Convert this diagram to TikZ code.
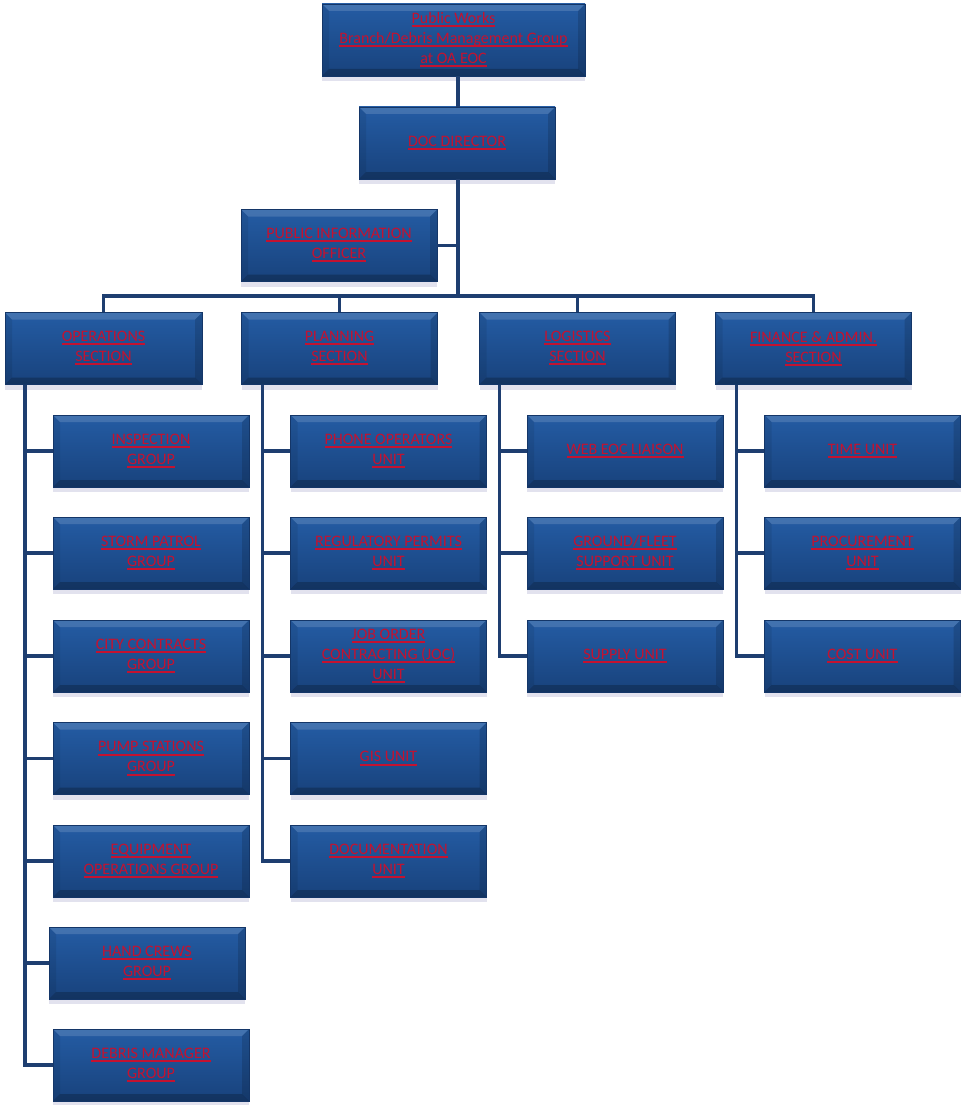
\documentclass[tikz,border=0pt]{standalone}
\usepackage{fontspec}
\setmainfont{Carlito}
\usetikzlibrary{shadows}

\definecolor{boxtop}{RGB}{36,92,164}
\definecolor{boxbot}{RGB}{24,66,124}
\definecolor{boxedge}{RGB}{20,54,104}
\definecolor{linkblue}{RGB}{30,62,112}
\definecolor{textred}{RGB}{196,18,48}

\newsavebox{\linebox}
\newcommand{\redline}[1]{\sbox{\linebox}{#1}\rlap{\rule[-3.6pt]{\wd\linebox}{2pt}}\usebox{\linebox}}

\tikzset{
  box/.style={rectangle, minimum width=196pt, minimum height=72pt, inner sep=2pt,
    align=center, top color=boxtop, bottom color=boxbot, draw=boxedge, line width=0.5pt,
    drop shadow={shadow xshift=0pt, shadow yshift=-5pt, fill=blue!25!gray!40, opacity=0.45},
    text=textred, font=\fontsize{16}{20}\selectfont,
    path picture={
      \fill[white,opacity=.14] (path picture bounding box.north west) -- (path picture bounding box.north east)
        -- ([xshift=-7pt,yshift=-7pt]path picture bounding box.north east) -- ([xshift=7pt,yshift=-7pt]path picture bounding box.north west) -- cycle;
      \fill[black,opacity=.22] (path picture bounding box.south west) -- (path picture bounding box.south east)
        -- ([xshift=-7pt,yshift=7pt]path picture bounding box.south east) -- ([xshift=7pt,yshift=7pt]path picture bounding box.south west) -- cycle;
      \fill[black,opacity=.08] (path picture bounding box.north west) -- ([xshift=7pt,yshift=-7pt]path picture bounding box.north west)
        -- ([xshift=7pt,yshift=7pt]path picture bounding box.south west) -- (path picture bounding box.south west) -- cycle;
      \fill[black,opacity=.14] (path picture bounding box.north east) -- ([xshift=-7pt,yshift=-7pt]path picture bounding box.north east)
        -- ([xshift=-7pt,yshift=7pt]path picture bounding box.south east) -- (path picture bounding box.south east) -- cycle;
    }},
  link/.style={draw=linkblue, line width=3.5pt}
}

\begin{document}
\begin{tikzpicture}[x=1pt, y=-1pt]
	\useasboundingbox (0,0) rectangle (962,1105);
	
	% top of the chart
	\node[box, minimum width=263pt] (works) at (453.5,40) {\redline{Public Works}\\\redline{Branch/Debris Management Group}\\\redline{at OA EOC}};
	\node[box] (doc) at (457,143) {\redline{DOC DIRECTOR}};
	\node[box] (pio) at (339,245.5) {\redline{PUBLIC INFORMATION}\\\redline{OFFICER}};
	
	% sections
	\node[box, minimum width=197pt] (ops) at (103.5,348.5) {\redline{OPERATIONS}\\\redline{SECTION}};
	\node[box] (plan) at (339.5,348.5) {\redline{PLANNING}\\\redline{SECTION}};
	\node[box] (logi) at (577.5,348.5) {\redline{LOGISTICS}\\\redline{SECTION}};
	\node[box] (fin) at (813.5,348.5) {\redline{FINANCE \& ADMIN.}\\\redline{SECTION}};
	
	% operations
	\node[box] (insp) at (151,451) {\redline{INSPECTION}\\\redline{GROUP}};
	\node[box] (storm) at (151,553) {\redline{STORM PATROL}\\\redline{GROUP}};
	\node[box] (city) at (151,656) {\redline{CITY CONTRACTS}\\\redline{GROUP}};
	\node[box] (pump) at (151,758.5) {\redline{PUMP STATIONS}\\\redline{GROUP}};
	\node[box] (equip) at (151,861) {\redline{EQUIPMENT}\\\redline{OPERATIONS GROUP}};
	\node[box] (hand) at (147,963) {\redline{HAND CREWS}\\\redline{GROUP}};
	\node[box] (debris) at (151,1065) {\redline{DEBRIS MANAGER}\\\redline{GROUP}};
	
	% planning
	\node[box] (phone) at (388.5,451) {\redline{PHONE OPERATORS}\\\redline{UNIT}};
	\node[box] (permits) at (388.5,553) {\redline{REGULATORY PERMITS}\\\redline{UNIT}};
	\node[box] (joc) at (388.5,656) {\redline{JOB ORDER}\\\redline{CONTRACTING (JOC)}\\\redline{UNIT}};
	\node[box] (gis) at (388.5,758.5) {\redline{GIS UNIT}};
	\node[box] (docu) at (388.5,861) {\redline{DOCUMENTATION}\\\redline{UNIT}};
	
	% logistics
	\node[box] (web) at (625,451) {\redline{WEB EOC LIAISON}};
	\node[box] (fleet) at (625,553) {\redline{GROUND/FLEET}\\\redline{SUPPORT UNIT}};
	\node[box] (supply) at (625,656) {\redline{SUPPLY UNIT}};
	
	% finance
	\node[box] (time) at (862.5,451) {\redline{TIME UNIT}};
	\node[box] (procure) at (862.5,553) {\redline{PROCUREMENT}\\\redline{UNIT}};
	\node[box] (cost) at (862.5,656) {\redline{COST UNIT}};
	
	% connectors
	\coordinate (hub) at (458,296);
	\coordinate (opsbus) at ([xshift=20pt]ops.south west);
	\coordinate (planbus) at ([xshift=21pt]plan.south west);
	\coordinate (logibus) at ([xshift=20pt]logi.south west);
	\coordinate (finbus) at ([xshift=21pt]fin.south west);
	
	\draw[link] (hub |- works.south) -- (hub |- doc.north);
	\draw[link] (hub |- doc.south) -- (hub);
	\draw[link] (pio.east) -- (pio.east -| hub);
	\draw[link] (ops.north) -- (ops.north |- hub) -- (fin.north |- hub) -- (fin.north);
	\draw[link] (plan.north) -- (plan.north |- hub);
	\draw[link] (logi.north) -- (logi.north |- hub);
	
	\draw[link] (opsbus) |- (insp.west);
	\draw[link] (opsbus) |- (storm.west);
	\draw[link] (opsbus) |- (city.west);
	\draw[link] (opsbus) |- (pump.west);
	\draw[link] (opsbus) |- (equip.west);
	\draw[link] (opsbus) |- (hand.west);
	\draw[link] (opsbus) |- (debris.west);
	
	\draw[link] (planbus) |- (phone.west);
	\draw[link] (planbus) |- (permits.west);
	\draw[link] (planbus) |- (joc.west);
	\draw[link] (planbus) |- (gis.west);
	\draw[link] (planbus) |- (docu.west);
	
	\draw[link] (logibus) |- (web.west);
	\draw[link] (logibus) |- (fleet.west);
	\draw[link] (logibus) |- (supply.west);
	
	\draw[link] (finbus) |- (time.west);
	\draw[link] (finbus) |- (procure.west);
	\draw[link] (finbus) |- (cost.west);
\end{tikzpicture}
\end{document}
